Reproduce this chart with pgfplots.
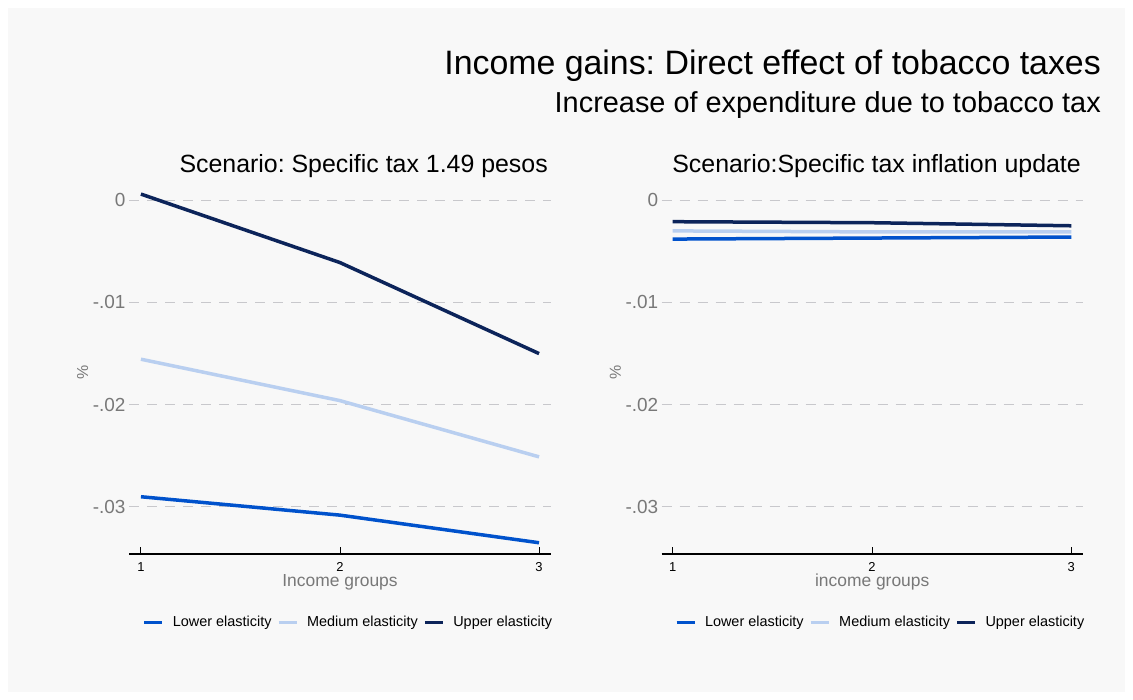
\documentclass[border=0pt]{standalone}
\usepackage{fontspec}
\setmainfont{Liberation Sans}
\usepackage{pgfplots}
\pgfplotsset{compat=1.18}
\frenchspacing
\definecolor{bgc}{RGB}{248,248,248}
\definecolor{lowc}{RGB}{0,82,204}
\definecolor{medc}{RGB}{185,207,240}
\definecolor{upc}{RGB}{12,36,90}
\definecolor{gridc}{RGB}{200,200,204}
\definecolor{labc}{RGB}{120,120,120}
\newcommand{\fs}[1]{\fontsize{#1}{#1}\selectfont}
\pgfplotsset{
 panel/.style={
  scale only axis, height=364bp,
  ymin=-0.0346, ymax=0.001,
  axis x line*=bottom, axis y line*=left,
  y axis line style={draw=none},
  x axis line style={line width=2bp, black, -},
  xtick={1,2,3}, xticklabels={1,2,3},
  ytick={-0.03,-0.02,-0.01,0}, yticklabels={-.03,-.02,-.01,0},
  scaled y ticks=false,
  tick align=inside,
  ytick style={draw=none},
  xtick style={black, line width=1bp},
  major tick length=7bp,
  ymajorgrids,
  major grid style={gridc, line width=1bp, dash pattern=on 10bp off 8bp},
  yticklabel style={font=\fs{19}, text=labc},
  xticklabel style={font=\fs{13}, text=black, yshift=-5bp},
  every axis x label/.style={at={(axis description cs:0.5,0)}, anchor=base, yshift=-33bp, font=\fs{17.5}, text=labc},
  every axis y label/.style={at={(axis description cs:-0.11,0.5)}, rotate=90, anchor=center, font=\fs{16}, text=labc},
  ylabel={\%},
  legend columns=3,
  legend style={at={(axis description cs:0.52,-0.187)}, anchor=center, draw=none, fill=none, font=\fs{14.5}, text=black,
    /tikz/every odd column/.append style={column sep=7bp},
    /tikz/every even column/.append style={column sep=3.5bp}},
  legend image code/.code={\draw[line width=3bp] (0bp,0bp) -- (18bp,0bp);},
  every axis plot/.append style={line width=3.5bp, line join=round},
 }
}
\begin{document}
\begin{tikzpicture}[x=1bp,y=1bp]
\useasboundingbox (0bp,0bp) rectangle (1133bp,700bp);
\fill[white] (0bp,0bp) rectangle (1133bp,700bp);
\fill[bgc] (8bp,8bp) rectangle (1125bp,692bp);

\node[anchor=base east, inner sep=0, font=\fs{34}] at (1101bp,625bp) {Income gains: Direct effect of tobacco taxes};
\node[anchor=base east, inner sep=0, font=\fs{29}] at (1101bp,587bp) {Increase of expenditure due to tobacco tax};
\node[anchor=base east, inner sep=0, font=\fs{25}] at (548bp,527bp) {Scenario: Specific tax 1.49 pesos};
\node[anchor=base east, inner sep=0, font=\fs{25}] at (1081bp,527bp) {Scenario:Specific tax inflation update};

\begin{axis}[panel, at={(129bp,146bp)}, anchor=south west, width=422bp,
  xmin=0.94, xmax=3.06, xlabel={Income groups}]
\addplot[lowc] coordinates {(1,-0.0290) (2,-0.0308) (3,-0.0335)};
\addlegendentry{Lower elasticity}
\addplot[medc] coordinates {(1,-0.01555) (2,-0.0196) (3,-0.0251)};
\addlegendentry{Medium elasticity}
\addplot[upc] coordinates {(1,0.0006) (2,-0.0061) (3,-0.0150)};
\addlegendentry{Upper elasticity}
\end{axis}

\begin{axis}[panel, at={(661.7bp,146bp)}, anchor=south west, width=421bp,
  xmin=0.945, xmax=3.057, xlabel={income groups}]
\addplot[lowc] coordinates {(1,-0.0038) (2,-0.0037) (3,-0.0036)};
\addlegendentry{Lower elasticity}
\addplot[medc] coordinates {(1,-0.0030) (2,-0.0031) (3,-0.0031)};
\addlegendentry{Medium elasticity}
\addplot[upc] coordinates {(1,-0.0021) (2,-0.0022) (3,-0.0025)};
\addlegendentry{Upper elasticity}
\end{axis}
\end{tikzpicture}
\end{document}
